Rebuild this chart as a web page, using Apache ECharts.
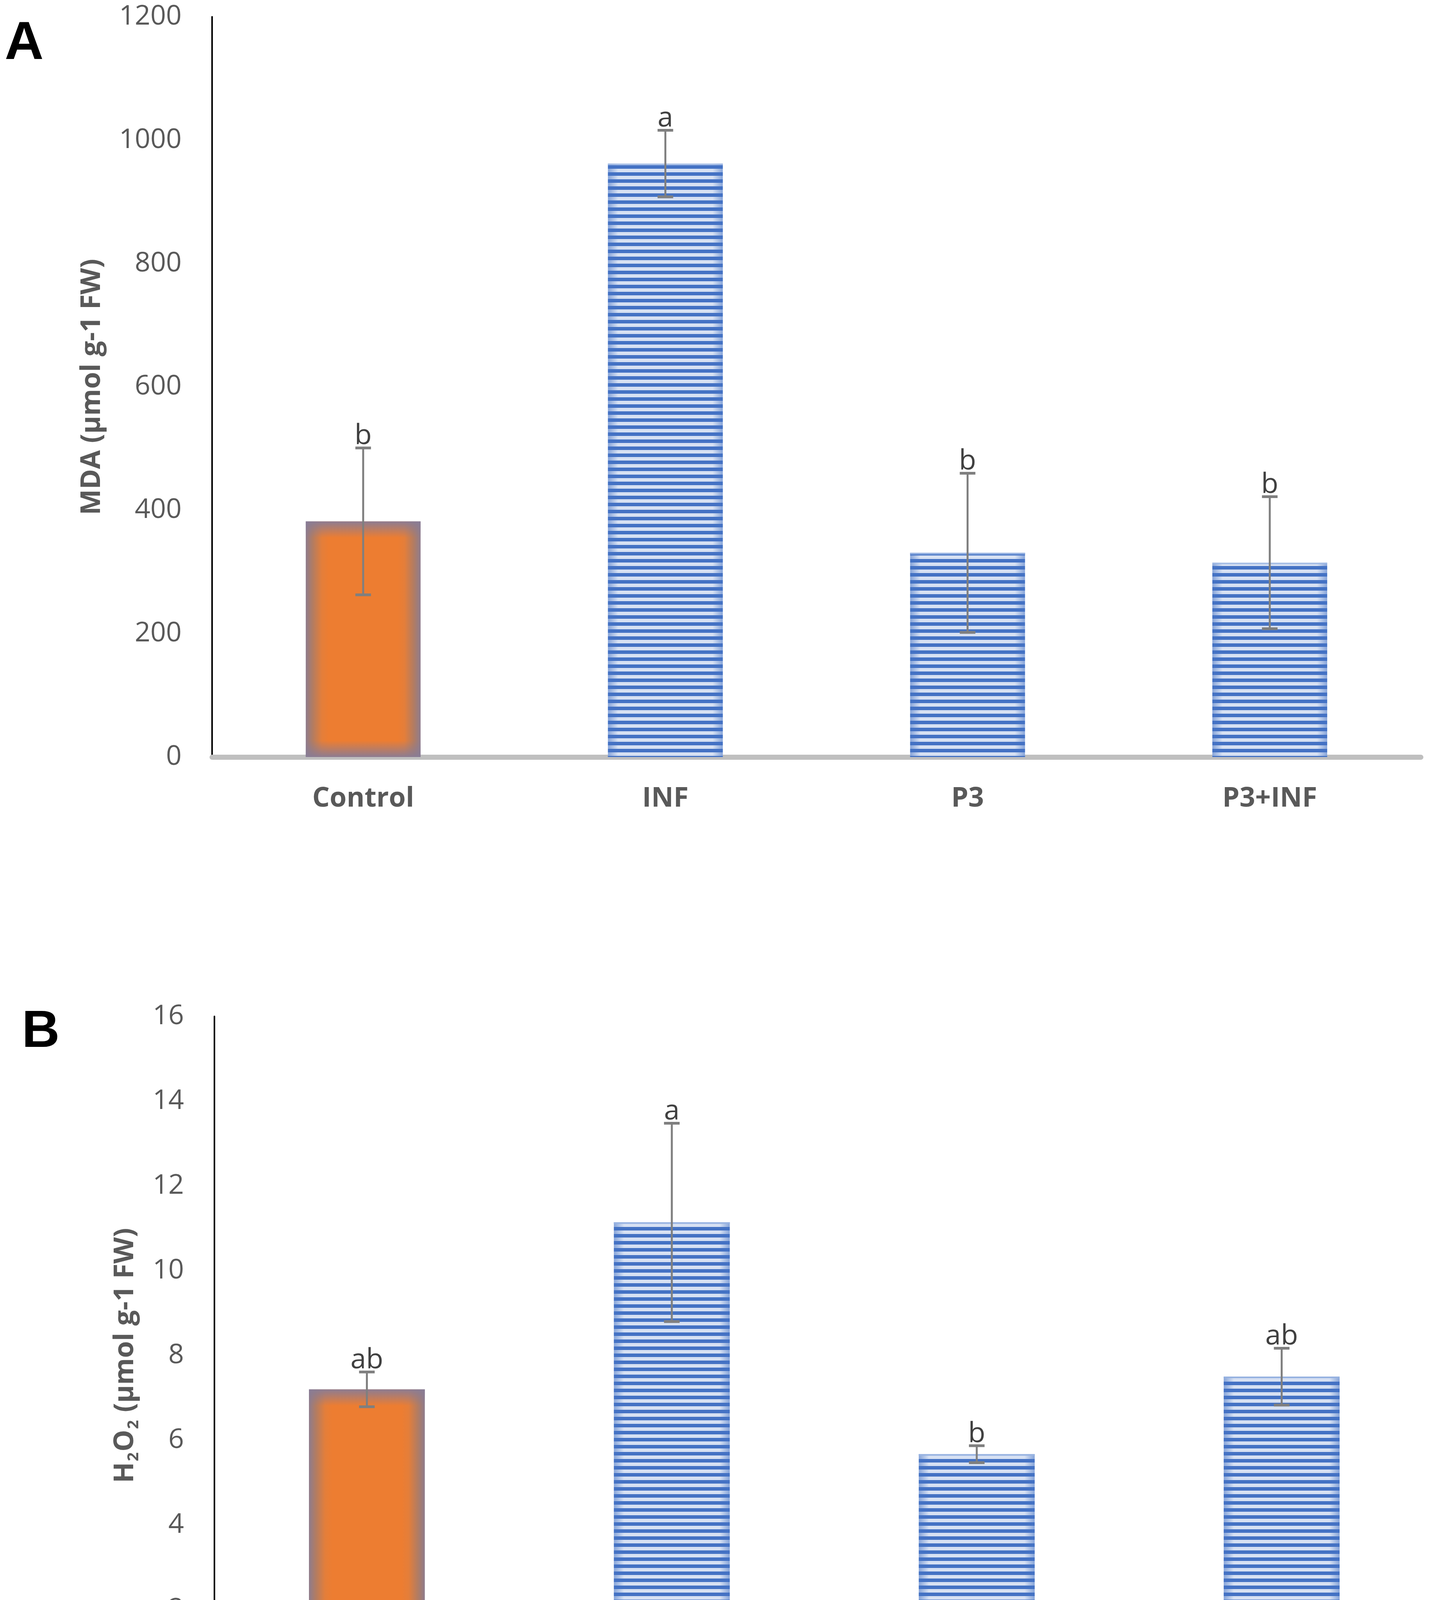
<!DOCTYPE html>
<html>
<head>
<meta charset="utf-8">
<script src="https://cdn.jsdelivr.net/npm/echarts@6/dist/echarts.min.js"></script>
<style>
html,body{margin:0;padding:0;background:#ffffff;}
#chart{width:3687px;height:4485px;}
</style>
</head>
<body>
<div id="chart"></div>
<script>
// ---- data ----
const categories = ['Control', 'INF', 'P3', 'P3+INF'];

const mdaMean = [382, 962, 331, 315];
const mdaErr = [119, 54, 129, 107];
const mdaLetters = ['b', 'a', 'b', 'b'];
const mdaTicks = [0, 200, 400, 600, 800, 1000, 1200];

const h2o2Mean = [7.20, 11.14, 5.67, 7.50];
const h2o2Err = [0.41, 2.34, 0.20, 0.67];
const h2o2Letters = ['ab', 'a', 'b', 'ab'];
const h2o2Ticks = [0, 2, 4, 6, 8, 10, 12, 14, 16];

// ---- styles ----
const FONT = '"Open Sans", "Noto Sans", sans-serif';
const GRAY_TXT = '#595959';
const ORANGE = '#ED7D31';
const EDGE = '#8E7C8D';
const BLUE_DARK = '#4472C4';
const BLUE_LIGHT = '#D7E1F3';
const BAR_FRAC = 0.38;

// stripe pattern for the blue bars
const pc = document.createElement('canvas');
pc.width = 8; pc.height = 18;
const pctx = pc.getContext('2d');
pctx.fillStyle = BLUE_LIGHT; pctx.fillRect(0, 0, 8, 18);
pctx.fillStyle = BLUE_DARK; pctx.fillRect(0, 9, 8, 9);
const stripePattern = { image: pc, repeat: 'repeat' };

const orangeFill = new echarts.graphic.LinearGradient(0, 0, 1, 0, [
  { offset: 0, color: EDGE },
  { offset: 0.06, color: '#B27C62' },
  { offset: 0.14, color: '#E47E3A' },
  { offset: 0.2, color: ORANGE },
  { offset: 0.8, color: ORANGE },
  { offset: 0.86, color: '#E47E3A' },
  { offset: 0.94, color: '#B27C62' },
  { offset: 1, color: EDGE }
]);

function barData(means) {
  return means.map((v, i) => ({
    value: v,
    itemStyle: { color: i === 0 ? orangeFill : stripePattern }
  }));
}

function makeOverlay(errs, letters) {
  return function (params, api) {
    const idx = params.dataIndex;
    const xi = api.value(0);
    const mean = api.value(1);
    const err = errs[idx];
    const band = api.size([1, 0])[0];
    const bw = band * BAR_FRAC;
    const base = api.coord([xi, 0]);
    const top = api.coord([xi, mean]);
    const hi = api.coord([xi, mean + err]);
    const lo = api.coord([xi, mean - err]);
    const cx = base[0];
    const x0 = cx - bw / 2;
    const h = base[1] - top[1];
    const children = [];
    if (idx === 0) {
      const g = Math.min(0.45, 42 / h);
      children.push({
        type: 'rect',
        shape: { x: x0, y: top[1], width: bw, height: h },
        style: {
          fill: new echarts.graphic.LinearGradient(0, 0, 0, 1, [
            { offset: 0, color: 'rgba(136,124,150,0.95)' },
            { offset: g, color: 'rgba(136,124,150,0)' },
            { offset: 1 - g, color: 'rgba(136,124,150,0)' },
            { offset: 1, color: 'rgba(136,124,150,0.95)' }
          ])
        },
        silent: true
      });
    } else {
      const g = 26 / bw;
      children.push({
        type: 'rect',
        shape: { x: x0, y: top[1], width: bw, height: h },
        style: {
          fill: new echarts.graphic.LinearGradient(0, 0, 1, 0, [
            { offset: 0, color: 'rgba(68,114,196,0.55)' },
            { offset: g, color: 'rgba(68,114,196,0)' },
            { offset: 1 - g, color: 'rgba(68,114,196,0)' },
            { offset: 1, color: 'rgba(68,114,196,0.55)' }
          ])
        },
        silent: true
      });
      children.push({
        type: 'rect',
        shape: { x: x0, y: top[1], width: bw, height: 4 },
        style: { fill: 'rgba(160,185,228,0.9)' },
        silent: true
      });
    }
    const capHalf = 20;
    children.push({
      type: 'line',
      shape: { x1: cx, y1: hi[1], x2: cx, y2: lo[1] },
      style: { stroke: '#7F7F7F', lineWidth: 5 }
    });
    children.push({
      type: 'line',
      shape: { x1: cx - capHalf, y1: hi[1], x2: cx + capHalf, y2: hi[1] },
      style: { stroke: '#7F7F7F', lineWidth: 7 }
    });
    children.push({
      type: 'line',
      shape: { x1: cx - capHalf, y1: lo[1], x2: cx + capHalf, y2: lo[1] },
      style: { stroke: '#7F7F7F', lineWidth: 7 }
    });
    children.push({
      type: 'text',
      style: {
        text: letters[idx],
        x: cx,
        y: hi[1] + 6,
        textAlign: 'center',
        textVerticalAlign: 'bottom',
        fontSize: 72,
        fontFamily: FONT,
        fill: '#404040'
      }
    });
    return { type: 'group', children: children };
  };
}

function yAxisCfg(ticks, gridIndex, name, nameGap, rich) {
  return {
    type: 'value',
    gridIndex: gridIndex,
    min: ticks[0],
    max: ticks[ticks.length - 1],
    interval: ticks[1] - ticks[0],
    splitLine: { show: false },
    axisTick: { show: false },
    axisLine: { show: true, lineStyle: { color: '#000000', width: 4 } },
    axisLabel: {
      fontSize: 70, fontFamily: FONT, color: GRAY_TXT, margin: 78,
      formatter: function (v) { return String(v); }
    },
    name: name,
    nameLocation: 'middle',
    nameGap: nameGap,
    nameTextStyle: Object.assign({
      fontSize: 70, fontWeight: 'bold', fontFamily: FONT, color: GRAY_TXT
    }, rich ? { rich: rich } : {})
  };
}

function xAxisCfg(gridIndex) {
  return {
    type: 'category',
    gridIndex: gridIndex,
    data: categories,
    axisTick: { show: false },
    axisLine: { show: true, lineStyle: { color: '#BFBFBF', width: 13 } },
    axisLabel: { fontSize: 70, fontWeight: 'bold', fontFamily: FONT, color: GRAY_TXT, margin: 72 }
  };
}

const chart = echarts.init(document.getElementById('chart'), null, { renderer: 'canvas' });

const h2o2Rich = {
  n: { fontSize: 70, fontWeight: 'bold', fontFamily: FONT, color: GRAY_TXT, lineHeight: 84, verticalAlign: 'middle' },
  s: { fontSize: 40, fontWeight: 'bold', fontFamily: FONT, color: GRAY_TXT, lineHeight: 40, verticalAlign: 'bottom', padding: [0, 2, 0, 2] }
};

const option = {
  animation: false,
  backgroundColor: '#ffffff',
  grid: [
    { left: 543, right: 49, top: 43, bottom: 4485 - 1938 },
    { left: 549, right: 15, top: 2602, bottom: 4485 - 4338 }
  ],
  xAxis: [xAxisCfg(0), xAxisCfg(1)],
  yAxis: [
    yAxisCfg(mdaTicks, 0, 'MDA (µmol g-1 FW)', 272),
    yAxisCfg(h2o2Ticks, 1, '{n|H}{s|2}{n|O}{s|2}{n| (µmol g-1 FW)}', 186, h2o2Rich)
  ],
  graphic: [
    { type: 'text', x: 12, y: 113, style: { text: 'A', fontSize: 138, fontWeight: 'bold', fontFamily: '"Liberation Sans", Arial, sans-serif', fill: '#000000', textVerticalAlign: 'middle' } },
    { type: 'text', x: 56, y: 2643, style: { text: 'B', fontSize: 134, fontWeight: 'bold', fontFamily: '"Liberation Sans", Arial, sans-serif', fill: '#000000', textVerticalAlign: 'middle' } }
  ],
  series: [
    {
      type: 'bar', xAxisIndex: 0, yAxisIndex: 0,
      barWidth: (BAR_FRAC * 100) + '%',
      data: barData(mdaMean),
      emphasis: { disabled: true },
      z: 2
    },
    {
      type: 'custom', xAxisIndex: 0, yAxisIndex: 0,
      data: mdaMean.map((v, i) => [i, v]),
      renderItem: makeOverlay(mdaErr, mdaLetters),
      z: 5
    },
    {
      type: 'bar', xAxisIndex: 1, yAxisIndex: 1,
      barWidth: (BAR_FRAC * 100) + '%',
      data: barData(h2o2Mean),
      emphasis: { disabled: true },
      z: 2
    },
    {
      type: 'custom', xAxisIndex: 1, yAxisIndex: 1,
      data: h2o2Mean.map((v, i) => [i, v]),
      renderItem: makeOverlay(h2o2Err, h2o2Letters),
      z: 5
    }
  ]
};
chart.setOption(option);
</script>
</body>
</html>
